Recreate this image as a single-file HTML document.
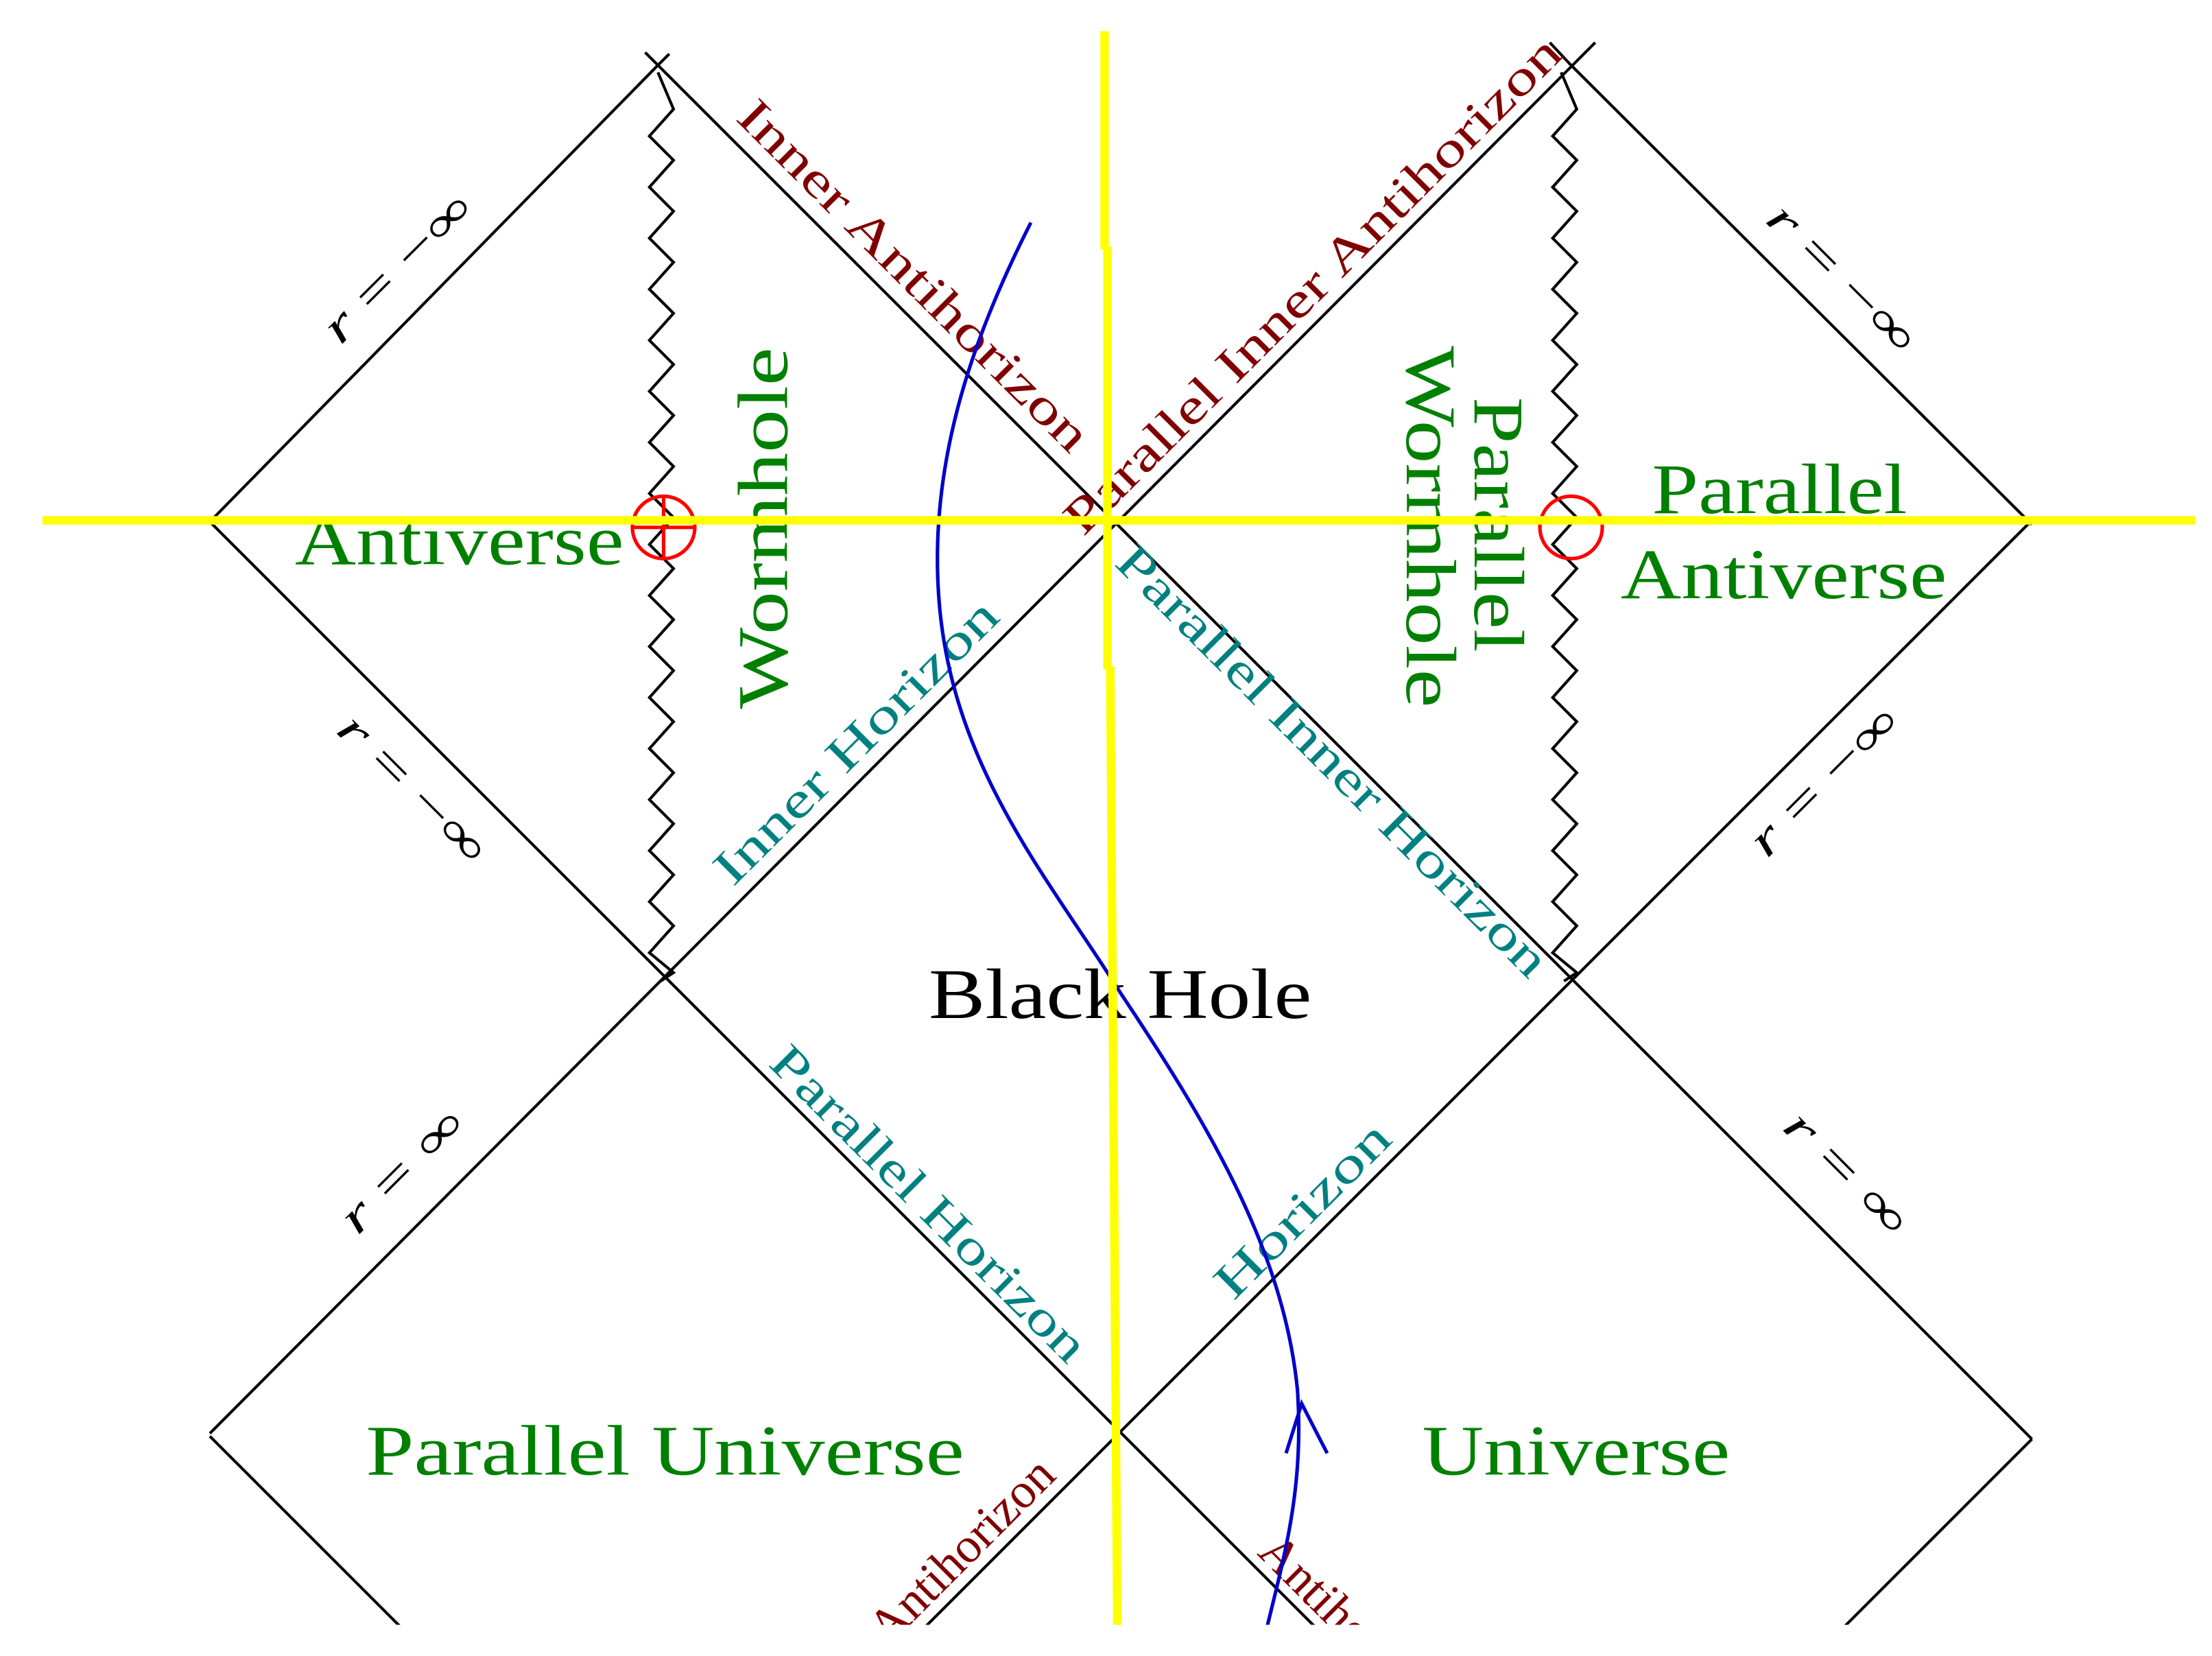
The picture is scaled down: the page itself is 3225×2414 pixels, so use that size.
<!DOCTYPE html>
<html><head><meta charset="utf-8"><style>
html,body{margin:0;padding:0;background:#fff;}
svg{display:block;}
text{font-family:"Liberation Serif",serif;}
</style></head><body>
<svg width="3225" height="2414" viewBox="0 0 1560 1168" preserveAspectRatio="none" xmlns="http://www.w3.org/2000/svg">
<defs>
<clipPath id="c"><rect x="0" y="0" width="1560" height="1146"/></clipPath>
</defs>
<rect width="1560" height="1168" fill="#fff"/>
<g clip-path="url(#c)">
<g stroke="#000" stroke-width="2" fill="none">
<line x1="455" y1="37" x2="1433" y2="1015"/>
<line x1="1125" y1="30" x2="148" y2="1011"/>
<line x1="148" y1="368" x2="930" y2="1150"/>
<line x1="1433" y1="367" x2="650" y2="1150"/>
<polyline points="472,38 463,47 148,368"/>
<polyline points="1093,30 1107,45 1433,370"/>
<polyline points="148,1013 285,1150"/>
<polyline points="1433,1015 1298,1150"/>
<polyline id="zl" points="464,51 475,77 458,96 475,113 458,132 475,149 458,168 475,185 458,204 475,221 458,240 475,257 458,276 475,293 458,312 475,329 458,348 475,365 458,384 475,401 458,420 475,437 458,456 475,473 458,492 475,509 458,528 475,545 458,564 475,581 458,600 475,617 458,636 475,653 458,672 475,686 466,692"/>
<use href="#zl" transform="translate(637,0)"/>
</g>
<g fill="#008000" font-size="50">
<text x="208" y="398" textLength="232" lengthAdjust="spacingAndGlyphs">Antiverse</text>
<text x="1165" y="362" textLength="180" lengthAdjust="spacingAndGlyphs">Parallel</text>
<text x="1143" y="422" textLength="230" lengthAdjust="spacingAndGlyphs">Antiverse</text>
<text x="258" y="1040" textLength="422" lengthAdjust="spacingAndGlyphs">Parallel Universe</text>
<text x="1003" y="1040" textLength="217" lengthAdjust="spacingAndGlyphs">Universe</text>
<text transform="translate(555,500) rotate(-90)" textLength="255" lengthAdjust="spacingAndGlyphs">Wormhole</text>
<text transform="translate(1040,280) rotate(90)" textLength="180" lengthAdjust="spacingAndGlyphs">Parallel</text>
<text transform="translate(992,244) rotate(90)" textLength="255" lengthAdjust="spacingAndGlyphs">Wormhole</text>
</g>
<text x="655" y="718" font-size="50" fill="#000" textLength="270" lengthAdjust="spacingAndGlyphs">Black Hole</text>
<g font-size="35">
<text fill="#800000" transform="translate(518,84) rotate(45)" textLength="335" lengthAdjust="spacingAndGlyphs">Inner Antihorizon</text>
<text fill="#800000" transform="translate(764,379) rotate(-45)" textLength="480" lengthAdjust="spacingAndGlyphs">Parallel Inner Antihorizon</text>
<text fill="#008080" transform="translate(785,398) rotate(45)" textLength="415" lengthAdjust="spacingAndGlyphs">Parallel Inner Horizon</text>
<text fill="#008080" transform="translate(517,626) rotate(-45)" textLength="268" lengthAdjust="spacingAndGlyphs">Inner Horizon</text>
<text fill="#008080" transform="translate(541,751) rotate(45)" textLength="300" lengthAdjust="spacingAndGlyphs">Parallel Horizon</text>
<text fill="#008080" transform="translate(870,918) rotate(-45)" textLength="160" lengthAdjust="spacingAndGlyphs">Horizon</text>
<text fill="#800000" text-anchor="end" transform="translate(746,1042) rotate(-45)">Antihorizon</text>
<text fill="#800000" transform="translate(886,1096) rotate(45)">Antihorizon</text>
</g>
<g font-size="33" fill="#000">
<text transform="translate(240,244) rotate(-45)" textLength="135" lengthAdjust="spacingAndGlyphs"><tspan font-style="italic">r</tspan> = −∞</text>
<text transform="translate(236,516) rotate(45)" textLength="135" lengthAdjust="spacingAndGlyphs"><tspan font-style="italic">r</tspan> = −∞</text>
<text transform="translate(1244,156) rotate(45)" textLength="135" lengthAdjust="spacingAndGlyphs"><tspan font-style="italic">r</tspan> = −∞</text>
<text transform="translate(1246,606) rotate(-45)" textLength="135" lengthAdjust="spacingAndGlyphs"><tspan font-style="italic">r</tspan> = −∞</text>
<text transform="translate(252,872) rotate(-45)" textLength="110" lengthAdjust="spacingAndGlyphs"><tspan font-style="italic">r</tspan> = ∞</text>
<text transform="translate(1256,796) rotate(45)" textLength="110" lengthAdjust="spacingAndGlyphs"><tspan font-style="italic">r</tspan> = ∞</text>
</g>
<g stroke="#ff0000" stroke-width="2.5" fill="none">
<circle cx="468" cy="372" r="22"/>
<line x1="446" y1="372" x2="490" y2="372"/>
<line x1="468" y1="350" x2="468" y2="394"/>
<circle cx="1108" cy="372" r="22"/>
</g>
<path d="M727,157 C690,230 655,320 662,420 C670,540 740,620 790,700 C850,790 905,880 915,980 C920,1050 905,1100 893,1150" fill="none" stroke="#0000cc" stroke-width="2.5"/>
<polyline points="907,1025 918,990 936,1025" fill="none" stroke="#0000cc" stroke-width="2.5"/>
<g stroke="#ffff00" stroke-width="6" fill="none">
<line x1="30" y1="367" x2="1548" y2="367"/>
<line x1="779" y1="22" x2="779" y2="176"/>
<line x1="781" y1="174" x2="781" y2="472"/>
<line x1="783" y1="470" x2="788" y2="1150"/>
</g>
</g>
</svg>
</body></html>
